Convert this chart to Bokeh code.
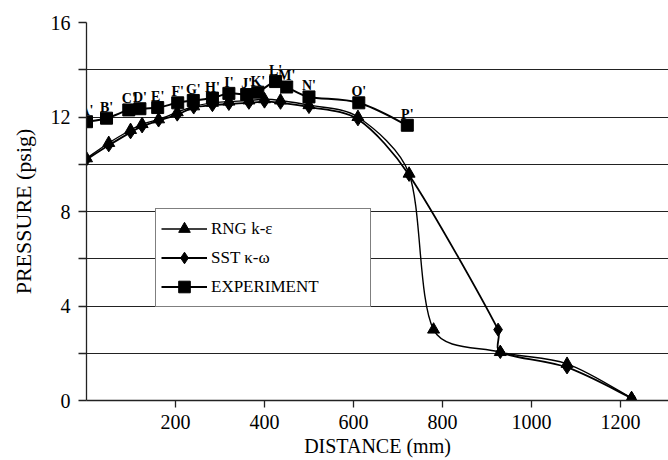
import math
from bokeh.plotting import figure
from bokeh.models import (Range1d, FixedTicker, Legend, LegendItem,
                          ColumnDataSource)
from bokeh.embed import file_html
from bokeh.resources import INLINE
from bokeh.core.properties import value

# ---------------- data ----------------
exp_labels = ["A'", "B'", "C'", "D'", "E'", "F'", "G'", "H'", "I'", "J'",
              "K'", "L'", "M'", "N'", "O'", "P'"]
exp_x = [0, 45, 95, 120, 160, 205, 240, 283, 320, 360, 385, 425, 450, 500, 612, 721]
exp_y = [11.8, 11.95, 12.3, 12.35, 12.4, 12.6, 12.7, 12.8, 13.0, 12.95, 13.05,
         13.5, 13.27, 12.85, 12.6, 11.65]

rng_x = [0, 50, 99, 125, 162, 204, 241, 283, 320, 365, 400, 436, 500, 610,
         725, 780, 930, 1080, 1225]
rng_y = [10.25, 10.9, 11.45, 11.7, 11.9, 12.2, 12.45, 12.6, 12.65, 12.7, 12.75,
         12.7, 12.5, 12.0, 9.6, 3.0, 2.05, 1.55, 0.1]

sst_x = [0, 50, 99, 125, 162, 204, 241, 283, 320, 365, 400, 436, 500, 610,
         725, 925, 930, 1080, 1225]
sst_y = [10.2, 10.8, 11.35, 11.6, 11.85, 12.1, 12.4, 12.5, 12.55, 12.6, 12.65,
         12.6, 12.42, 11.9, 9.55, 3.0, 2.05, 1.4, 0.1]

y_ticks = [0, 4, 8, 12, 16]
y_minor = [2, 6, 10, 14]
y_grid = [2, 4, 6, 8, 10, 12, 14]
x_ticks = [200, 400, 600, 800, 1000, 1200]

# ---------------- layout ----------------
W, H = 668, 460
LEFT, RIGHT, TOP, BOTTOM = 86, 0, 22, 60
X_MAX, Y_MAX = 1308, 16
SX = (W - LEFT - RIGHT) / X_MAX
SY = (H - TOP - BOTTOM) / Y_MAX
FONT = "Liberation Serif"


def smooth(xs, ys):
    """Excel-like smoothed line: Bezier control points from neighbouring points."""
    n = len(xs)
    P = [(x * SX, y * SY) for x, y in zip(xs, ys)]
    d = dict(x0=[], y0=[], x1=[], y1=[], cx0=[], cy0=[], cx1=[], cy1=[])
    for i in range(n - 1):
        p0 = P[max(i - 1, 0)]
        p1 = P[i]
        p2 = P[i + 1]
        p3 = P[min(i + 2, n - 1)]
        seg = math.hypot(p2[0] - p1[0], p2[1] - p1[1])
        t1 = [(p2[0] - p0[0]) / 6, (p2[1] - p0[1]) / 6]
        t2 = [(p3[0] - p1[0]) / 6, (p3[1] - p1[1]) / 6]
        for t in (t1, t2):
            m = math.hypot(*t)
            lim = seg / 3
            if m > lim and m > 0:
                t[0] *= lim / m
                t[1] *= lim / m
        d["x0"].append(p1[0] / SX); d["y0"].append(p1[1] / SY)
        d["x1"].append(p2[0] / SX); d["y1"].append(p2[1] / SY)
        d["cx0"].append((p1[0] + t1[0]) / SX); d["cy0"].append((p1[1] + t1[1]) / SY)
        d["cx1"].append((p2[0] - t2[0]) / SX); d["cy1"].append((p2[1] - t2[1]) / SY)
    return ColumnDataSource(d)


p = figure(width=W, height=H, x_range=Range1d(0, X_MAX), y_range=Range1d(0, Y_MAX),
           output_backend="svg", toolbar_location=None,
           min_border_left=LEFT, min_border_right=RIGHT,
           min_border_top=TOP, min_border_bottom=BOTTOM)
p.outline_line_color = None
p.background_fill_color = "white"
p.border_fill_color = "white"

# grid
p.xgrid.grid_line_color = None
p.ygrid.ticker = FixedTicker(ticks=y_grid)
p.ygrid.grid_line_color = "#222222"
p.ygrid.grid_line_width = 1.2

# axes
p.yaxis.ticker = FixedTicker(ticks=y_ticks, minor_ticks=y_minor)
p.xaxis.ticker = FixedTicker(ticks=x_ticks)
for ax in (p.xaxis, p.yaxis):
    ax.axis_line_color = "#222222"
    ax.axis_line_width = 1.3
    ax.major_tick_line_color = "#222222"
    ax.major_tick_line_width = 1.3
    ax.major_tick_in = 0
    ax.minor_tick_in = 0
    ax.major_label_text_font = FONT
    ax.major_label_text_color = "black"
    ax.axis_label_text_font = FONT
    ax.axis_label_text_font_style = "normal"
    ax.axis_label_text_color = "black"
p.yaxis.major_tick_out = 8
p.yaxis.minor_tick_out = 8
p.yaxis.minor_tick_line_color = "#222222"
p.yaxis.minor_tick_line_width = 1.3
p.yaxis.major_label_standoff = 8
p.yaxis.major_label_text_font_size = "20px"
p.yaxis.axis_label = "PRESSURE (psig)"
p.yaxis.axis_label_text_font_size = "22px"
p.yaxis.axis_label_standoff = 12

p.xaxis.major_tick_out = 7
p.xaxis.minor_tick_line_color = None
p.xaxis.major_label_standoff = 7
p.xaxis.major_label_text_font_size = "20px"
p.xaxis.axis_label = "DISTANCE (mm)"
p.xaxis.axis_label_text_font_size = "20px"
p.xaxis.axis_label_standoff = 3

# series
src_rng = smooth(rng_x, rng_y)
src_sst = smooth(sst_x, sst_y)
src_exp = smooth(exp_x, exp_y)

r_rng_l = p.bezier(x0="x0", y0="y0", x1="x1", y1="y1", cx0="cx0", cy0="cy0",
                   cx1="cx1", cy1="cy1", source=src_rng, line_color="black", line_width=1.4)
r_sst_l = p.bezier(x0="x0", y0="y0", x1="x1", y1="y1", cx0="cx0", cy0="cy0",
                   cx1="cx1", cy1="cy1", source=src_sst, line_color="black", line_width=1.8)
r_exp_l = p.bezier(x0="x0", y0="y0", x1="x1", y1="y1", cx0="cx0", cy0="cy0",
                   cx1="cx1", cy1="cy1", source=src_exp, line_color="black", line_width=2)

r_rng_m = p.scatter(rng_x, rng_y, marker="triangle", size=12, color="black")
r_sst_m = p.scatter(sst_x, sst_y, marker="diamond", size=13, color="black")
r_exp_m = p.scatter(exp_x, exp_y, marker="square", size=12, color="black")

# point labels
p.text(x=exp_x, y=exp_y, text=exp_labels, text_font=value(FONT),
       text_font_style="bold", text_font_size="14px", text_color="black",
       text_align="center", text_baseline="alphabetic", y_offset=-11)

# legend
legend = Legend(items=[
    LegendItem(label="RNG k-ε", renderers=[r_rng_l, r_rng_m]),
    LegendItem(label="SST κ-ω", renderers=[r_sst_l, r_sst_m]),
    LegendItem(label="EXPERIMENT", renderers=[r_exp_l, r_exp_m]),
], location=(69, 93))
legend.border_line_color = "black"
legend.border_line_width = 1
legend.background_fill_color = "white"
legend.background_fill_alpha = 1
legend.padding = 5
legend.spacing = 0
legend.margin = 0
legend.glyph_width = 46
legend.glyph_height = 29
legend.label_height = 29
legend.label_width = 154
legend.label_standoff = 4
legend.label_text_font = FONT
legend.label_text_font_size = "17px"
legend.label_text_color = "black"
p.add_layout(legend)

open("out.html", "w").write(file_html(p, INLINE))
